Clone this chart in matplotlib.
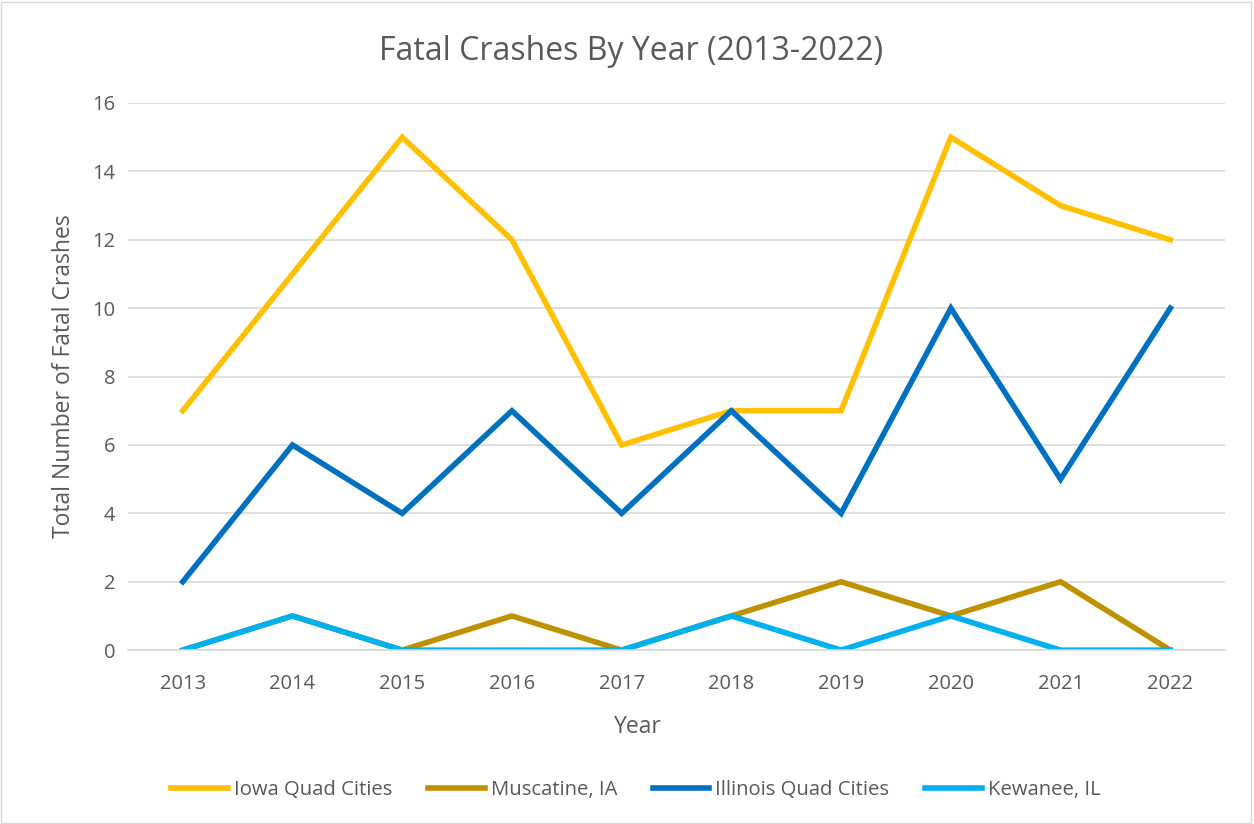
import matplotlib.pyplot as plt
from matplotlib.patches import Rectangle

# data
years = ["2013", "2014", "2015", "2016", "2017", "2018", "2019", "2020", "2021", "2022"]
iowa_qc = [7, 11, 15, 12, 6, 7, 7, 15, 13, 12]
muscatine = [0, 1, 0, 1, 0, 1, 2, 1, 2, 0]
illinois_qc = [2, 6, 4, 7, 4, 7, 4, 10, 5, 10]
kewanee = [0, 1, 0, 0, 0, 1, 0, 1, 0, 0]

series = [
    ("Iowa Quad Cities", iowa_qc, "#FFC000"),
    ("Muscatine, IA", muscatine, "#BF9000"),
    ("Illinois Quad Cities", illinois_qc, "#0070C0"),
    ("Kewanee, IL", kewanee, "#00B0F0"),
]

plt.rcParams["font.family"] = ["Open Sans", "DejaVu Sans"]
text_col = "#595959"

fig = plt.figure(figsize=(12.54, 8.24), dpi=100)
ax = fig.add_axes([0.102, 0.211, 0.875, 0.664])

x = list(range(len(years)))
for name, vals, col in series:
    ax.plot(x, vals, color=col, linewidth=4, label=name, solid_joinstyle="miter")

ax.set_xlim(-0.5, len(years) - 0.5)
ax.set_ylim(0, 16)
ax.set_yticks(range(0, 17, 2))
ax.set_xticks(x)
ax.set_xticklabels(years)
ax.grid(axis="y", color="#D9D9D9", linewidth=1.2)
ax.set_axisbelow(True)
for s in ["top", "right", "left"]:
    ax.spines[s].set_visible(False)
ax.spines["bottom"].set_color("#D9D9D9")
ax.spines["bottom"].set_linewidth(1.2)
ax.tick_params(axis="x", length=0, labelsize=14.5, colors=text_col, pad=17)
ax.tick_params(axis="y", length=0, labelsize=14.5, colors=text_col, pad=9)

ax.set_ylabel("Total Number of Fatal Crashes", fontsize=16.5, color=text_col, labelpad=12)
fig.text(0.509, 0.118, "Year", fontsize=16.5, color=text_col, ha="center", va="center")
fig.suptitle("Fatal Crashes By Year (2013-2022)", x=0.503, y=0.937, fontsize=23,
             color=text_col, va="center")

fig.legend(loc="center", bbox_to_anchor=(0.507, 0.041), ncol=4, frameon=False,
           fontsize=14.6, labelcolor=text_col, handlelength=2.8, handletextpad=0.3,
           columnspacing=1.75)

fig.patches.append(Rectangle((0.001, 0.001), 0.997, 0.997, transform=fig.transFigure,
                             fill=False, edgecolor="#D9D9D9", linewidth=1))

fig.savefig("out.png", dpi=100)
